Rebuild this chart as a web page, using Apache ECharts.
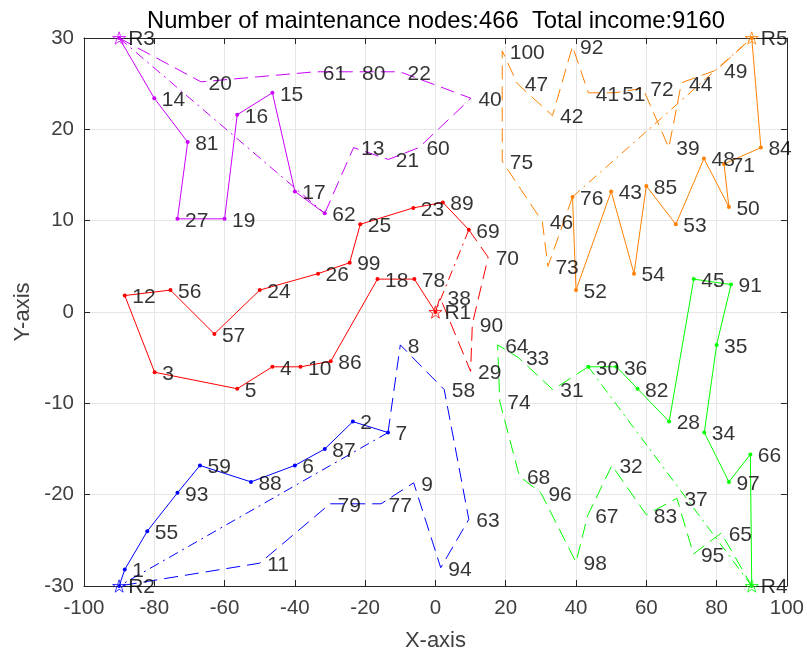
<!DOCTYPE html>
<html>
<head>
<meta charset="utf-8">
<script src="https://cdn.jsdelivr.net/npm/echarts@6/dist/echarts.min.js"></script>
<style>html,body{margin:0;padding:0;background:#fff;}#chart{width:807px;height:657px;}</style>
</head>
<body>
<div id="chart"></div>
<script>
// ---- data ----
const depotIds = ['R1','R2','R3','R4','R5'];
const depotX = [0, -90, -90, 90, 90];
const depotY = [0, -30, 30, -30, 30];

const nodeIds = [
  '14','81','27','19','16','15','17','62','13','21','60','40','22','80','61','20',
  '78','18','86','10','4','5','3','12','56','57','24','26','99','25','23','89','69','70','90','29','38',
  '1','55','93','59','88','6','87','2','7','8','58','63','94','9','77','79','11',
  '66','97','34','35','91','45','28','82','36','30','31','33','64','74','68','96','98','67','32','83','37','95','65',
  '84','71','50','48','53','85','54','43','52','76','73','46','75','100','47','42','92','41','51','72','39','44','49'
];
const nodeX = [
  -80,-70.5,-73.4,-60,-56.4,-46.4,-40,-31.5,-23.3,-13.4,-4.7,10.1,-10.1,-23,-34.2,-66.7,
  -6,-16.5,-29.8,-38.4,-46.4,-56.4,-79.9,-88.4,-75.4,-62.9,-50,-33.4,-24.4,-21.4,-6.3,2.1,9.5,15,10.5,10,1.3,
  -88.4,-82,-73.4,-67,-52.5,-40,-31.5,-23.5,-13.5,-10,2.5,9.5,1.5,-6.2,-15.5,-30,-50,
  89.6,83.5,76.5,80,84.1,73.5,66.5,57.5,51.5,43.5,33.4,23.6,17.7,18.3,23.9,30,40,43.3,50.2,60,68.7,73.4,81.3,
  92.6,82.1,83.5,76.4,68.4,60,56.5,50,40,39,32,30.4,19,19,23.3,33.3,39,43.5,51,59,66.4,70,80
];
const nodeY = [
  23.4,18.6,10.2,10.2,21.6,24.0,13.2,10.8,18.0,16.7,18.0,23.4,26.3,26.3,26.3,25.2,
  3.6,3.6,-5.4,-6,-6,-8.4,-6.6,1.8,2.4,-2.4,2.4,4.2,5.4,9.6,11.4,12,9,6,-1.3,-6.5,1.6,
  -28.2,-24,-19.8,-16.8,-18.6,-16.8,-15,-12,-13.2,-3.6,-8.5,-22.7,-28,-18.7,-21,-21,-27.5,
  -15.6,-18.6,-13.2,-3.6,3.0,3.6,-12,-8.4,-6,-6,-8.5,-5,-3.6,-9.8,-18,-19.8,-27.4,-22.3,-16.8,-22.2,-20.4,-26.5,-24.2,
  18,16.2,11.5,16.8,9.6,13.8,4.2,13.2,2.4,12.6,5,9.9,16.5,28.6,25,21.5,29.1,24,24,24.5,18,25.1,26.5
];

const routeColors = ['#ff0000','#0000ff','#cc00ff','#00ff00','#ff8000'];
const solidRoutes = [
  ['R1','78','18','86','10','4','5','3','12','56','57','24','26','99','25','23','89','69'],
  ['R2','1','55','93','59','88','6','87','2','7'],
  ['R3','14','81','27','19','16','15','17','62'],
  ['R4','66','97','34','35','91','45','28','82','36','30'],
  ['R5','84','71','50','48','53','85','54','43','52','76']
];
const dashedRoutes = [
  ['69','70','90','29','38','R1'],
  ['7','8','58','63','94','9','77','79','11','R2'],
  ['62','13','21','60','40','22','80','61','20','R3'],
  ['30','31','33','64','74','68','96','98','67','32','83','37','95','65','R4'],
  ['76','73','46','75','100','47','42','92','41','51','72','39','44','49','R5']
];
const dashDotRoutes = [
  ['69','R1'],
  ['7','R2'],
  ['R3','62'],
  ['30','R4'],
  ['76','R5']
];
const titleText = 'Number of maintenance nodes:466  Total income:9160';

// ---- build ----
const pos = {};
depotIds.forEach((id, i) => { pos[id] = [depotX[i], depotY[i]]; });
nodeIds.forEach((id, i) => { pos[id] = [nodeX[i], nodeY[i]]; });
const FONT = 'Liberation Sans, Arial, Helvetica, sans-serif';
const STAR = 'path://M50,0 L61.23,34.55 L97.55,34.55 L68.17,55.9 L79.39,90.45 L50,69.1 L20.61,90.45 L31.83,55.9 L2.45,34.55 L38.77,34.55 Z';

const series = [];
routeColors.forEach((c, k) => {
  series.push({
    type: 'line', data: solidRoutes[k].map(id => pos[id]),
    symbol: 'circle', symbolSize: 4, showAllSymbol: true,
    itemStyle: { color: c }, lineStyle: { color: c, width: 1, type: 'solid' },
    animation: false, z: 3
  });
  series.push({
    type: 'line', data: dashedRoutes[k].map(id => pos[id]),
    symbol: 'none', lineStyle: { color: c, width: 1, type: [14, 7] },
    animation: false, z: 2
  });
  series.push({
    type: 'line', data: dashDotRoutes[k].map(id => pos[id]),
    symbol: 'none', lineStyle: { color: c, width: 1, type: [10, 5, 2, 5] },
    animation: false, z: 2
  });
});
// node labels
series.push({
  type: 'scatter', data: nodeIds.map((id, i) => [nodeX[i], nodeY[i], id]),
  symbol: 'circle', symbolSize: 1, itemStyle: { color: 'rgba(0,0,0,0)' },
  label: { show: true, position: 'right', distance: 7, offset: [0, 2], formatter: p => p.value[2],
           fontSize: 21, color: '#000', fontFamily: FONT },
  animation: false, z: 10, silent: true
});
// depots
series.push({
  type: 'scatter', data: depotIds.map((id, i) => ({ value: [depotX[i], depotY[i], id],
    itemStyle: { color: 'rgba(0,0,0,0)', borderColor: routeColors[i], borderWidth: 1 } })),
  symbol: STAR, symbolSize: 13, symbolKeepAspect: true,
  label: { show: true, position: 'right', distance: 2, offset: [0, 1], formatter: p => p.value[2],
           fontSize: 21, color: '#000', fontFamily: FONT },
  animation: false, z: 11, silent: true
});

const axisCol = '#262626';
const txtCol = '#404040';
function mkAxis(extra) {
  return Object.assign({
    type: 'value',
    axisLine: { show: true, onZero: false, lineStyle: { color: axisCol, width: 1 } },
    axisTick: { show: true, inside: true, length: 6, lineStyle: { color: axisCol, width: 1 } },
    splitLine: { show: false }
  }, extra);
}

const chart = echarts.init(document.getElementById('chart'), null, { renderer: 'canvas' });
chart.setOption({
  animation: false,
  backgroundColor: '#fff',
  grid: { left: 84, right: 19, top: 38, bottom: 69, containLabel: false },
  graphic: [{
    type: 'text', x: 436, y: 9,
    style: { text: titleText, fontSize: 23.8, fontFamily: FONT, fill: '#000',
             align: 'center', verticalAlign: 'top', textAlign: 'center', textVerticalAlign: 'top' }
  }],
  xAxis: [
    mkAxis({ min: -100, max: 100, interval: 20, position: 'bottom',
      name: 'X-axis', nameLocation: 'middle', nameGap: 44,
      nameTextStyle: { fontSize: 22, color: txtCol, fontFamily: FONT },
      axisLabel: { fontSize: 20.5, color: txtCol, margin: 12, fontFamily: FONT },
      splitLine: { show: true, lineStyle: { color: '#e6e6e6', width: 1 } } }),
    mkAxis({ min: -100, max: 100, interval: 20, position: 'top', axisLabel: { show: false } })
  ],
  yAxis: [
    mkAxis({ min: -30, max: 30, interval: 10, position: 'left',
      name: 'Y-axis', nameLocation: 'middle', nameGap: 47,
      nameTextStyle: { fontSize: 22, color: txtCol, fontFamily: FONT },
      axisLabel: { fontSize: 20.5, color: txtCol, margin: 10, fontFamily: FONT },
      splitLine: { show: true, lineStyle: { color: '#e6e6e6', width: 1 } } }),
    mkAxis({ min: -30, max: 30, interval: 10, position: 'right', axisLabel: { show: false } })
  ],
  series: series
});
</script>
</body>
</html>
